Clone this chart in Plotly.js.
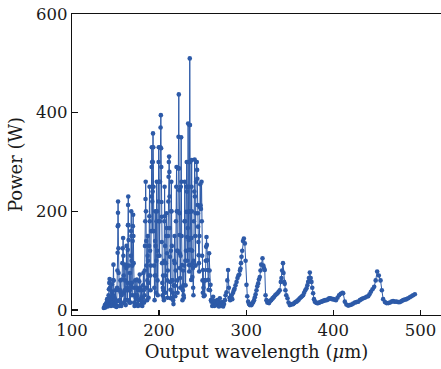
<!DOCTYPE html>
<html>
<head>
<meta charset="utf-8">
<script src="https://cdn.plot.ly/plotly-3.0.1.min.js"></script>
<style>html,body{margin:0;padding:0;background:#fff;}#chart{width:441px;height:369px;}</style>
</head>
<body>
<div id="chart"></div>
<script>
// Output wavelength (µm), dense spike region
const wavelengthA = [
136.5,137.2,137.8,138.3,138.8,139.4,139.9,140.3,140.7,141.1,
141.6,142.0,142.4,142.8,143.2,143.6,144.0,144.4,144.8,145.2,
145.5,145.8,146.1,146.4,146.8,147.1,147.3,147.6,147.9,148.2,
148.6,149.0,149.4,149.8,150.2,150.6,151.0,151.4,151.8,152.1,
152.4,152.6,152.8,152.9,153.1,153.3,153.5,153.8,154.2,154.6,
155.0,155.3,155.6,155.9,156.2,156.6,157.0,157.4,157.8,158.2,
158.7,159.0,159.3,159.6,159.9,160.3,160.7,161.0,161.3,161.7,
162.0,162.3,162.6,162.9,163.2,163.5,163.8,164.0,164.2,164.4,
164.6,164.8,165.0,165.3,165.6,165.9,166.2,166.5,166.8,167.1,
167.4,167.6,167.8,168.0,168.2,168.4,168.7,169.0,169.3,169.6,
169.9,170.2,170.5,170.8,171.1,171.4,171.8,172.1,172.5,172.9,
173.3,173.8,174.2,174.5,174.9,175.3,175.8,176.3,176.8,177.3,
177.8,178.2,178.6,179.0,179.4,179.8,180.2,180.7,181.2,181.6,
182.0,182.4,182.8,183.2,183.5,183.8,184.1,184.4,184.6,184.9,
185.2,185.5,185.8,186.2,186.5,186.8,187.0,187.3,187.6,187.9,
188.2,188.5,188.8,189.0,189.3,189.6,189.9,190.2,190.5,190.8,
191.1,191.4,191.6,191.9,192.2,192.4,192.6,192.8,193.0,193.3,
193.6,193.9,194.2,194.5,194.8,195.1,195.4,195.6,195.9,196.2,
196.5,196.8,197.0,197.3,197.6,197.9,198.2,198.5,198.8,199.1,
199.4,199.6,199.9,200.2,200.5,200.8,201.1,201.4,201.7,202.0,
202.3,202.5,202.7,202.9,203.1,203.4,203.7,204.0,204.3,204.6,
204.9,205.2,205.5,205.8,206.0,206.3,206.6,206.9,207.2,207.5,
207.8,208.1,208.5,208.8,209.1,209.4,209.7,210.0,210.3,210.6,
210.9,211.2,211.5,211.8,212.0,212.2,212.4,212.7,213.0,213.3,
213.5,213.7,214.0,214.3,214.6,214.9,215.2,215.5,215.8,216.1,
216.5,216.9,217.3,217.7,218.0,218.3,218.6,219.0,219.3,219.7,
220.0,220.3,220.6,220.9,221.2,221.5,221.8,222.0,222.3,222.6,
222.9,223.1,223.3,223.5,223.7,223.9,224.1,224.3,224.6,224.9,
225.3,225.6,225.9,226.2,226.5,226.8,227.2,227.5,227.8,228.1,
228.4,228.8,229.1,229.5,229.8,230.1,230.4,230.8,231.1,231.4,
231.7,232.0,232.3,232.6,232.9,233.1,233.3,233.5,233.7,233.9,
234.1,234.3,234.5,234.7,234.9,235.2,235.4,235.6,235.9,236.1,
236.4,236.6,236.8,237.0,237.2,237.4,237.6,237.9,238.2,238.5,
238.8,239.1,239.4,239.7,240.0,240.4,240.8,241.1,241.5,241.9,
242.0,242.4,242.8,243.2,243.6,243.9,244.2,244.5,244.8,245.1,
245.4,245.7,246.0,246.3,246.7,247.2,247.6,248.0,248.7,249.0,
249.4,249.8,250.2,250.5,250.9,251.3,251.8,252.3,253.0,253.5,
254.0,254.4,254.8,255.3,255.8,256.3,256.8,257.4,257.9,258.4,
259.0,259.5,260.1,261.0,262.0,262.6,263.3,264.0,265.0,265.9,
266.8,267.8,268.7,269.7,270.5,271.5,272.5,273.5,274.5,275.5
];
// Power (W), dense spike region
const powerA = [
4,6,10,5,12,8,16,22,12,7,
18,30,42,55,63,45,25,12,8,20,
38,52,35,15,10,30,60,92,60,28,
12,8,22,40,20,10,6,18,45,80,
116,170,197,220,172,125,75,40,18,8,
20,40,60,35,15,8,30,62,95,125,
146,110,70,35,14,40,92,60,20,10,
40,85,130,90,45,20,55,122,172,213,
230,172,142,90,40,15,40,75,45,15,
50,110,160,200,150,100,55,30,90,140,
170,193,150,95,45,15,8,30,60,25,
10,22,45,62,30,12,8,20,40,58,
72,45,20,10,25,40,18,8,25,50,
75,40,15,30,80,130,180,225,260,200,
140,90,45,20,60,110,150,100,55,25,
70,130,190,250,180,120,70,40,90,160,
230,290,330,300,220,160,240,300,358,330,
250,160,90,45,20,70,140,200,130,70,
35,100,180,260,200,120,60,30,110,220,
300,330,260,180,110,180,260,330,370,395,
328,290,219,189,138,95,55,30,45,70,
40,25,20,100,180,250,190,130,70,35,
95,150,196,166,115,60,25,80,150,220,
270,300,311,280,230,166,108,57,41,24,
120,200,260,200,130,60,25,60,35,20,
12,50,100,150,95,49,28,80,180,250,
290,200,120,60,35,120,200,287,351,437,
287,243,196,152,115,85,65,45,110,250,
350,260,150,91,45,20,40,80,50,30,
25,90,180,260,180,100,50,120,199,250,
300,240,148,100,166,250,378,300,199,142,
122,91,78,200,375,510,375,300,199,146,
122,91,61,146,250,304,200,120,67,95,
85,45,30,100,180,240,305,230,150,90,
196,260,300,300,284,266,213,196,169,138,
111,95,78,150,209,255,212,205,260,180,
110,60,35,81,45,28,60,30,60,100,
128,148,132,101,81,61,41,115,80,40,
51,20,17,8,27,15,8,18,12,10,
20,15,7,24,12,9,16,7,12,20
];
// Output wavelength (µm), long-wavelength tail
const wavelengthB = [
276.3,277.4,278.3,279.2,280.0,280.8,281.5,282.3,283.1,284.0,
284.9,285.8,286.6,287.7,288.9,290.0,291.0,292.0,292.8,293.4,
294.0,294.6,295.4,296.3,297.3,298.4,299.3,300.3,301.2,302.2,
303.2,304.2,305.1,306.0,307.0,308.0,309.0,309.9,310.8,311.8,
312.7,313.7,314.6,315.6,316.4,317.2,318.7,319.6,320.4,321.3,
322.2,323.2,324.2,325.2,326.2,327.2,328.6,330.0,331.0,332.0,
333.3,334.6,335.9,337.2,338.5,339.7,340.5,341.2,342.2,342.8,
343.5,344.2,345.0,346.0,347.4,348.6,350.0,351.3,352.6,353.9,
355.2,356.5,357.7,359.0,360.2,361.5,362.8,364.0,365.3,366.5,
367.8,369.2,370.2,371.1,372.0,373.0,374.0,374.9,375.8,376.8,
377.8,378.8,380.0,381.3,382.5,383.8,385.1,386.4,387.8,389.2,
390.6,392.2,393.5,394.8,396.0,397.3,398.6,399.9,401.5,403.0,
404.8,406.6,408.5,410.5,411.3,413.2,415.0,417.0,419.0,420.9,
422.8,424.7,426.6,428.6,430.5,432.4,434.3,436.2,438.1,440.0,
441.5,443.1,445.0,446.9,448.6,450.3,452.2,454.2,455.7,457.2,
459.2,461.1,463.0,465.0,466.8,468.6,470.5,472.5,474.5,476.4,
478.3,480.2,482.1,484.0,485.9,487.8,489.7,491.5,493.6
];
// Power (W), long-wavelength tail
const powerB = [
30,36,60,81,45,25,20,25,30,22,
35,40,43,50,57,65,70,72,80,84,
95,108,120,140,145,135,100,51,28,17,
12,10,12,10,13,16,20,26,32,40,
48,54,62,67,80,92,105,90,85,81,
30,20,15,17,14,18,20,23,25,27,
30,32,34,37,40,57,65,80,95,75,
57,53,40,30,24,15,10,11,12,12,
14,16,17,19,21,24,26,28,30,35,
40,44,50,57,65,76,65,57,45,34,
22,17,15,14,14,15,16,17,18,19,
20,20,21,23,24,23,22,22,21,20,
25,30,33,35,34,17,11,9,10,11,
13,15,16,17,20,22,24,25,27,28,
32,37,42,47,60,78,70,60,40,22,
16,14,14,15,17,18,17,17,16,16,
18,20,21,22,24,26,28,30,32
];
const xTicks = [100, 200, 300, 400, 500];
const yTicks = [0, 200, 400, 600];

const wavelength = wavelengthA.concat(wavelengthB);
const power = powerA.concat(powerB);

const serif = 'DejaVu Serif, serif';
const trace = {
  x: wavelength, y: power, type: 'scatter', mode: 'lines+markers',
  line: {color: '#2d5aa8', width: 1},
  marker: {color: '#2d5aa8', size: 4.6},
  hoverinfo: 'skip'
};
const layout = {
  width: 441, height: 369,
  margin: {l: 72, r: 0, t: 14, b: 54},
  paper_bgcolor: '#fff', plot_bgcolor: '#fff',
  showlegend: false,
  font: {family: serif, size: 16, color: '#1a1a1a'},
  xaxis: {
    range: [100, 523.6], tickvals: xTicks, ticktext: xTicks.map(String),
    ticks: 'inside', ticklen: 5, tickwidth: 1.3, tickcolor: '#111',
    showline: true, linecolor: '#111', linewidth: 1.3, mirror: true,
    showgrid: false, zeroline: false,
    tickfont: {family: serif, size: 16.5, color: '#1a1a1a'},
    title: {text: 'Output wavelength (<i>μ</i>m)', font: {family: serif, size: 18, color: '#1a1a1a'}, standoff: 6}
  },
  yaxis: {
    range: [-10.1, 600], tickvals: yTicks, ticktext: yTicks.map(String),
    ticks: 'inside', ticklen: 6, tickwidth: 1.3, tickcolor: '#111',
    showline: true, linecolor: '#111', linewidth: 1.3, mirror: false,
    showgrid: false, zeroline: false,
    tickfont: {family: serif, size: 16.5, color: '#1a1a1a'},
    title: {text: 'Power (W)', font: {family: serif, size: 18, color: '#1a1a1a'}, standoff: 8}
  }
};
Plotly.newPlot('chart', [trace], layout, {displayModeBar: false, staticPlot: true});
</script>
</body>
</html>
